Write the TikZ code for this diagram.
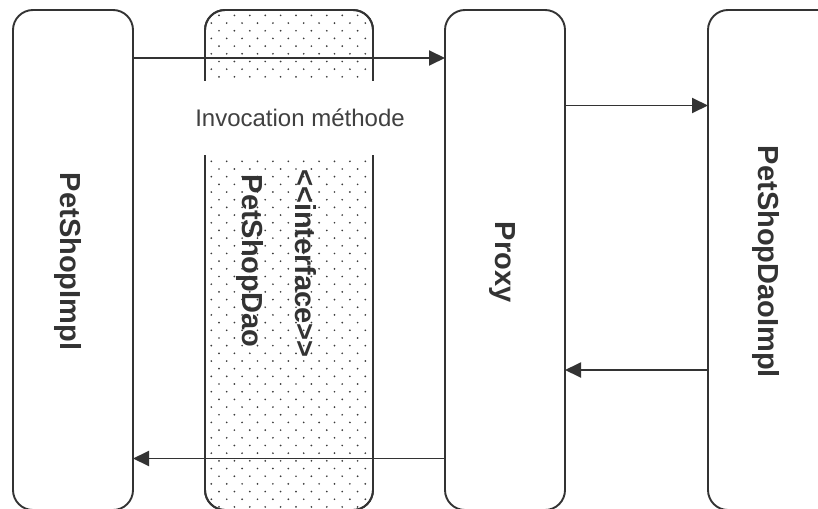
\documentclass[tikz,border=0pt]{standalone}
\usepackage{fontspec}
\setmainfont[Ligatures=TeXOff]{Liberation Sans}
\usetikzlibrary{arrows.meta}
\definecolor{ink}{HTML}{333333}
\definecolor{dotc}{HTML}{3A3A3A}
\definecolor{labelc}{HTML}{404040}
\begin{document}
\begin{tikzpicture}[x=1pt,y=-1pt,
  lane/.style={draw=ink, line width=1.9pt, rounded corners=20pt, fill=white,
    inner sep=0pt, outer sep=0pt, minimum height=500pt},
  title/.style={rotate=-90, inner sep=0pt, text=ink,
    font=\bfseries\fontsize{29}{33}\selectfont},
  flow/.style={draw=ink, line width=1.9pt, -{Triangle[length=16pt,width=15pt]}}]
\clip (0,0) rectangle (818,508);
\fill[white] (0,0) rectangle (818,508);

% lifelines
\node[lane, minimum width=120pt] (impl) at (73,260) {};
\node[lane, minimum width=168pt] (dao) at (289,260) {};
\node[lane, minimum width=120pt] (proxy) at (505,260) {};
\node[lane, minimum width=132pt] (daoimpl) at (774,260) {};

% dotted fill of the interface lane
\begin{scope}
  \clip[rounded corners=20pt] (205.8,10.8) rectangle (372.2,509.2);
  \foreach \k in {0,...,65} {
    \pgfmathsetmacro\yy{15.4+7.68*\k}
    \pgfmathsetmacro\xo{mod(\k,2)==0 ? 219 : 211.3}
    \foreach \j in {0,...,11} {
      \fill[dotc] ({\xo+15.4*\j},\yy) circle[radius=0.95pt];
    }
  }
\end{scope}
\draw[ink, line width=1.9pt, rounded corners=20pt] (dao.north west) rectangle (dao.south east);

% lane titles
\node[title] (t1) at (67.5,261.5) {PetShopImpl};
\node[title] (t2) at (249.5,261) {PetShopDao};
\node[title] (t3) at (306,263.5) {<\kern0pt<interface>\kern0pt>};
\node[title] (t4) at (502.5,262) {Proxy};
\node[title] (t5) at (765.5,262) {PetShopDaoImpl};

% call label
\node[fill=white, minimum width=200pt, minimum height=74pt, inner sep=0pt,
  text=labelc, font=\fontsize{24}{28}\selectfont] (lbl) at (300,118) {Invocation méthode};

% message levels
\coordinate (m1) at (0,58);
\coordinate (m2) at (0,105.5);
\coordinate (m3) at (0,370);
\coordinate (m4) at (0,458.5);

\draw[flow] (impl.east |- m1) -- (proxy.west |- m1);
\draw[flow] (proxy.east |- m2) -- (daoimpl.west |- m2);
\draw[flow] (daoimpl.west |- m3) -- (proxy.east |- m3);
\draw[flow] (proxy.west |- m4) -- (impl.east |- m4);
\end{tikzpicture}
\end{document}
